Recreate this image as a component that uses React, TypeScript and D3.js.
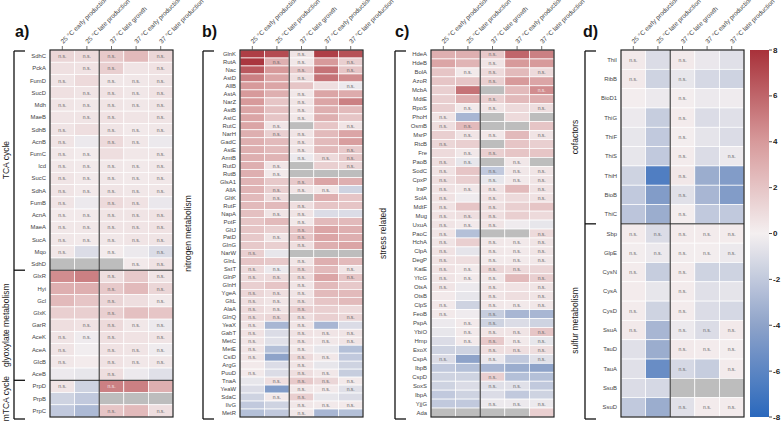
import React from 'react';
import * as d3 from 'd3';

const conditions = [
  '25 °C early production',
  '25 °C late production',
  '37 °C late growth',
  '37 °C early production',
  '37 °C late production',
];

// panel a
const aGenes = ['SdhC', 'PckA', 'FumD', 'SucD', 'Mdh', 'MaeB', 'SdhB', 'AcnB', 'FumC', 'Icd', 'SucC', 'SdhA', 'FumB', 'AcnA', 'MaeA', 'SucA', 'Mqo', 'SdhD',
  'GlxR', 'Hyi', 'Gcl', 'GlxK', 'GarR', 'AceK', 'AceA', 'GlcB', 'AceB', 'PrpD', 'PrpB', 'PrpC'];
const aValues = [
  [1.2, 1.0, 1.8, 2.5, 1.2], [0.7, 0.6, 1.5, 0.5, 0.6], [0.5, 1.0, 0.4, 0.4, 0.5], [0.7, 0.5, 0.6, 0.4, 0.6],
  [0.5, 0.4, 0.5, 0.4, 0.5], [0.5, 0.5, 0.6, 0.5, 0.5], [0.5, 0.8, 0.5, 0.3, 0.4], [0.5, -0.3, 1.0, 0.4, -0.3],
  [0.4, 0.2, 0.8, 0.4, 0.4], [0.4, 0.3, 0.4, 0.3, 0.4], [0.5, 0.3, 0.4, 0.3, 0.4], [0.5, 0.3, 0.5, 0.4, 0.4],
  [0.5, -0.3, 1.0, 0.6, -0.4], [0.3, 0.3, 0.5, 0.5, 0.6], [0.4, 0.4, 0.5, 0.5, 0.6], [0.4, 0.3, 0.4, 0.5, 0.5],
  [0.4, -1.0, 0.2, -0.3, -1.0], [null, null, null, 0.3, 0.6],
  [4.5, 5.0, 0.8, 1.8, 0.5], [3.0, 3.0, 1.8, 2.5, 1.2], [2.5, 2.0, 1.2, 0.8, 0.3], [1.5, 1.5, 1.5, 2.2, 2.0],
  [0.8, 0.6, 1.0, 0.4, -0.3], [0.5, -0.2, 0.7, 0.6, 0.5], [0.5, -0.1, 0.6, 0.5, -0.2], [0.4, 0.2, 0.6, 0.4, 0.4],
  [-0.3, -0.5, 0.8, -0.3, -0.8],
  [0.5, -1.5, 5.0, 5.0, 3.0], [-1.5, -2.0, null, null, null], [-2.0, -2.8, 2.0, 2.5, 0.8],
];
const aNs = ['11101', '01101', '10111', '01111', '11111', '01101', '10111', '10110', '11001', '11111', '11111', '11111',
  '10110', '11111', '11111', '11111', '10101', '00011',
  '00101', '00101', '00101', '00100', '01111', '11101', '10111', '10111', '00100',
  '10100', '00000', '00101'];
const aGroups = [['TCA cycle', 18], ['glyoxylate metabolism', 9], ['mTCA cycle', 3]];

// panel b
const bGenes = ['GlnK', 'RutA', 'Nac', 'AstD', 'AllB', 'AstA', 'NarZ', 'AstB', 'AstC', 'RutC', 'NarH', 'GadC', 'AstE', 'AmtB', 'RutD', 'RutB',
  'GlsA1', 'AllA', 'GltK', 'RutF', 'NapA', 'PotF', 'GltJ', 'PatD', 'GlnG', 'NarW', 'GlnL', 'SstT', 'GlnP', 'GlnH', 'YgeA', 'GltL', 'AlaA',
  'GlnQ', 'YeaX', 'GabT', 'MetC', 'MetE', 'CsiD', 'ArgG', 'PuuD', 'TnaA', 'YeaW', 'SdaC', 'IlvG', 'MetR'];
const bValues = [
  [7.5, 7.0, 0.5, 7.5, 6.8], [7.8, 3.0, 0.4, 4.0, 1.5], [6.5, 4.0, 1.8, 5.5, 2.0], [5.0, 3.5, 0.8, 5.5, 4.5],
  [4.0, 3.5, 2.0, 0.8, -0.3], [4.0, 3.0, 0.4, 3.5, 3.2], [4.0, 2.0, 0.5, 3.5, 5.0], [3.5, 2.2, 0.5, 3.0, 2.5],
  [3.5, 2.0, 0.4, 3.0, 2.0], [3.5, 0.5, null, 2.0, 0.5], [3.0, 1.5, 0.5, 2.5, 3.5], [3.0, 2.5, 0.6, 2.5, 3.8],
  [3.0, 2.5, 0.5, 2.5, 1.8], [3.0, 2.8, -0.3, 1.0, 1.8], [3.0, 0.5, null, 1.5, 1.2], [3.0, 0.3, null, null, null],
  [2.8, 1.8, 1.8, 3.5, 3.0], [2.8, 1.5, 0.5, 0.4, -1.5], [2.5, 1.0, null, 3.0, 2.0], [2.5, 2.5, 0.8, 2.0, 2.0],
  [2.2, 0.5, 0.5, -1.0, -1.0], [2.0, 2.5, 0.4, 2.5, 2.5], [2.0, 1.5, 2.0, 3.5, 3.0], [1.8, 0.5, 2.0, 3.5, 3.0],
  [1.8, 1.5, 0.8, 3.0, 3.5], [1.5, -0.5, null, null, null], [2.0, 1.8, 0.5, 3.0, 2.5], [1.0, -0.3, 1.2, 2.5, 0.5],
  [1.0, 1.0, 1.0, 3.5, 2.0], [1.5, 2.0, 0.5, 2.5, 1.8], [1.2, 0.8, 0.5, 2.5, 2.5], [0.8, 0.5, 0.8, 2.0, 2.5],
  [1.0, 0.6, 1.5, 1.5, 1.0], [1.0, 1.2, 0.8, 1.5, 1.2], [0.5, -3.0, 0.5, -3.0, -1.0], [0.6, -1.0, 0.6, 0.5, 0.5],
  [0.5, -0.8, 0.6, 0.4, 0.5], [0.5, -2.5, 0.4, -0.5, -2.5], [0.5, -4.0, 1.0, 0.4, -2.0], [0.3, -1.0, 0.5, -0.5, -1.5],
  [0.3, -1.0, 0.8, 0.4, -1.8], [-0.5, 0.8, 1.8, 1.2, 0.3], [-1.0, -4.5, 0.4, 0.3, -0.8], [-1.5, 0.3, 1.5, -0.5, -1.0],
  [-2.0, -1.5, 0.4, 0.3, 0.3], [-2.5, -2.0, 0.4, -3.0, -2.5],
];
const bNs = ['00100', '01101', '00101', '00100', '00001', '00100', '00100', '00100', '00100', '01001', '01100', '00100',
  '00101', '00111', '01001', '01000', '00100', '01110', '01000', '00100', '01100', '00100', '00100', '01100', '00100',
  '10000', '00100', '11101', '11101', '00100', '11100', '11100', '11100', '11101', '10100', '10111', '10111', '10100',
  '10110', '00100', '10110', '01111', '00111', '01100', '00111', '00100'];
const bGroups = [['nitrogen metabolism', 46]];

// panel c
const cGenes = ['HdeA', 'HdeB', 'BolA', 'AzoR', 'McbA', 'MdtE', 'RpoS', 'PhoH', 'OsmB', 'MsrP', 'RtcB', 'Fre', 'PaoB', 'SodC', 'CpxP', 'IraP',
  'SolA', 'MdtF', 'Mug', 'UxuA', 'PaoC', 'HchA', 'ClpA', 'DegP', 'KatE', 'YfcG', 'OtsA', 'OtsB', 'ClpS', 'FeoB', 'PspA', 'YbiO', 'Hmp',
  'ExoX', 'CspA', 'IbpB', 'CspD', 'SoxS', 'IbpA', 'YjjG', 'Ada'];
const cValues = [
  [3.0, 3.0, 1.8, 6.0, 5.0], [3.5, 2.8, 0.5, 4.0, 4.0], [2.0, 0.3, 1.0, 2.5, 1.0], [2.0, 2.0, 1.5, 4.0, 3.5],
  [1.5, 5.5, null, 2.5, 4.5], [1.5, 3.0, 1.5, 2.5, 3.0], [1.5, 0.3, 0.5, 1.0, 0.8], [0.5, -3.0, null, 1.0, null],
  [0.8, 2.5, null, null, 2.0], [1.5, 0.5, 0.4, 2.5, 0.5], [1.2, 1.5, null, 2.0, 1.5], [1.0, 0.4, 1.5, 2.0, 2.0],
  [0.8, -0.5, null, 0.4, null], [0.6, 2.0, -2.0, 0.4, 0.5], [0.8, 1.5, -0.5, 0.3, 0.5], [0.6, 0.4, 0.6, 2.5, 0.6],
  [0.6, -0.2, 0.6, 1.0, 0.6], [0.6, 2.0, 0.8, 1.5, 2.0], [0.6, 0.8, 0.8, 1.5, 1.0], [0.5, 0.3, 0.5, -0.2, -0.5],
  [0.5, -2.5, null, null, 1.0], [0.5, 1.5, 0.4, 0.3, 0.5], [0.6, -0.6, 0.4, 0.3, 0.5], [0.6, 0.8, 0.3, 0.3, 0.4],
  [0.6, 0.3, 1.2, 1.0, 1.2], [0.5, 0.3, 0.4, 2.5, 1.5], [0.5, -0.3, 0.5, 0.6, 0.5], [0.3, -0.5, 0.5, 0.8, 0.5],
  [0.3, -1.5, 0.4, 0.3, 0.4], [0.3, -0.2, -1.8, -3.0, -3.0], [-0.3, 0.3, -1.5, -1.0, -1.5], [-0.5, 0.3, 0.5, 0.5, 2.0],
  [-1.0, 0.3, 1.8, 0.3, -0.5], [-1.5, -1.5, 0.8, 0.8, 0.8], [-1.0, -4.0, -0.4, -2.0, -0.8], [-2.0, -2.5, -3.0, -3.5, -4.0],
  [-1.5, -1.5, 1.5, -2.5, -2.5], [-1.5, -1.0, -0.8, -0.8, -2.0], [-2.0, -1.5, -1.0, -2.0, -1.5], [-2.0, -2.0, -0.3, -0.3, -0.3],
  [null, null, null, null, 1.5],
];
const cNs = ['00100', '00100', '01101', '00100', '00001', '00100', '01101', '10000', '11000', '01101', '10000', '01100',
  '11010', '10111', '10111', '11101', '10101', '10100', '11100', '11100', '10001', '10111', '10111', '10111', '11110',
  '11101', '10101', '00101', '10111', '10100', '01100', '01111', '01111', '00111', '10101', '00000', '00100', '00110',
  '00000', '00111', '00000'];
const cGroups = [['stress related', 41]];

// panel d
const dGenes = ['ThiI', 'RibB', 'BioD1', 'ThiG', 'ThiF', 'ThiS', 'ThiH', 'BioB', 'ThiC',
  'Sbp', 'GlpE', 'CysN', 'CysA', 'CysD', 'SsuA', 'TauD', 'TauA', 'SsuB', 'SsuD'];
const dValues = [
  [0.3, -1.0, 0.3, -0.4, -0.8], [0.3, -1.5, -0.5, -1.2, -1.5], [0.1, -0.3, 0.1, -0.3, -0.2], [-0.3, -1.8, 0.2, -1.0, -0.8],
  [-0.5, -2.0, 0.1, -0.6, -1.0], [-0.5, -2.0, 0.2, -1.0, -0.3], [-1.5, -6.5, 0.4, -3.5, -4.5], [-2.0, -4.5, -0.8, -3.0, -4.5],
  [-2.2, -3.5, 0.1, -2.0, -2.0],
  [0.2, -1.0, 0.2, 0.2, 0.2], [0.1, -0.3, 0.1, 0.1, -0.3], [0.2, -1.8, 0.2, -1.5, -1.5], [0.2, -0.5, 0.2, -0.8, -0.6],
  [0.2, -1.5, 0.2, -1.0, -1.2], [0.3, -3.0, -0.3, -1.0, 0.3], [-0.8, -3.5, 0.3, 0.2, 0.1], [-0.8, -5.5, -1.2, -1.8, 0.2],
  [-1.0, -1.2, null, null, null], [-2.0, -3.5, -0.8, 0.2, 0.2],
];
const dNs = ['10100', '10100', '00100', '00100', '00100', '00101', '00100', '00100', '00100',
  '11111', '11111', '10100', '00100', '10100', '10111', '00111', '00101', '00000', '00111'];
const dGroups = [['cofactors', 9], ['sulfur metabolism', 10]];

const cbTicks = [8, 6, 4, 2, 0, -2, -4, -6, -8];

const TOP = 50;
const BOTTOM = 417;
const W = 123;
const FONT = "'Liberation Sans', Arial, Helvetica, sans-serif";
const NAN_FILL = '#bdbdbd';

const color = d3
  .scaleLinear<string>()
  .domain([-8, -4, 0, 4, 8])
  .range(['#2a68bd', '#8ea3c9', '#f4eff0', '#d79a9b', '#a8313a'])
  .clamp(true);

function Panel({ letter, letterX, left, genes, values, ns, groups, bracketX, labelX }) {
  const x = d3.scaleBand().domain(conditions).range([left, left + W]);
  const y = d3.scaleBand().domain(genes).range([TOP, BOTTOM]);
  const step = y.step();

  let acc = 0;
  const bounds = groups.map(([name, n]) => {
    const s = acc;
    acc += n;
    return { name, y0: TOP + s * step, y1: TOP + acc * step };
  });

  const sepX = left + 2 * x.step();

  return (
    <g>
      <text x={letterX} y={37} fontSize={16} fontWeight="bold" fill="#111">{letter}</text>

      {conditions.map(c => {
        const cx = x(c) + x.bandwidth() / 2;
        return (
          <g key={c}>
            <line x1={cx} x2={cx} y1={TOP - 4} y2={TOP} stroke="#333" strokeWidth={0.7} />
            <text transform={`translate(${cx + 1},${TOP - 6}) rotate(-45)`} fontSize={6.4} fill="#444">{c}</text>
          </g>
        );
      })}

      {genes.map((g, i) => (
        <g key={g}>
          <text x={left - 4} y={y(g) + step / 2} fontSize={5.9} fill="#444" textAnchor="end" dominantBaseline="central">{g}</text>
          {values[i].map((v, j) => {
            const cx = x(conditions[j]);
            const isNs = ns[i][j] === '1';
            return (
              <g key={j}>
                <rect x={cx} y={y(g)} width={x.bandwidth()} height={step}
                  fill={v === null ? NAN_FILL : color(v)} stroke="#fff" strokeWidth={0.7} />
                {isNs && (
                  <text x={cx + x.bandwidth() / 2} y={y(g) + step / 2} fontSize={5} textAnchor="middle"
                    dominantBaseline="central" fill={v !== null && Math.abs(v) > 4 ? '#f4e6e6' : '#666'}>n.s.</text>
                )}
              </g>
            );
          })}
        </g>
      ))}

      {bounds.slice(1).map(b => (
        <line key={b.name} x1={left} x2={left + W} y1={b.y0} y2={b.y0} stroke="#222" strokeWidth={1} />
      ))}
      <line x1={sepX} x2={sepX} y1={TOP} y2={BOTTOM} stroke="#222" strokeWidth={1} />
      <rect x={left} y={TOP} width={W} height={BOTTOM - TOP} fill="none" stroke="#222" strokeWidth={1.2} />

      <line x1={bracketX} x2={bracketX} y1={TOP + 1} y2={BOTTOM + 2} stroke="#111" strokeWidth={1.3} />
      {[TOP + 1, ...bounds.slice(1).map(b => b.y0), BOTTOM + 2].map((yy, k) => (
        <line key={k} x1={bracketX} x2={bracketX + 11} y1={yy} y2={yy} stroke="#111" strokeWidth={1.3} />
      ))}
      {bounds.map(b => (
        <text key={b.name} transform={`translate(${labelX},${(b.y0 + b.y1) / 2}) rotate(-90)`} fontSize={8.5}
          textAnchor="middle" dominantBaseline="central" fill="#222">{b.name}</text>
      ))}
    </g>
  );
}

function ColorBar({ left, width }) {
  const yc = d3.scaleLinear().domain([8, -8]).range([TOP, BOTTOM]);
  const stops = d3.range(0, 1.0001, 0.05);
  return (
    <g>
      <defs>
        <linearGradient id="cb" x1="0" y1="0" x2="0" y2="1">
          {stops.map(s => (
            <stop key={s} offset={s} stopColor={color(8 - 16 * s)} />
          ))}
        </linearGradient>
      </defs>
      <rect x={left} y={TOP} width={width} height={BOTTOM - TOP} fill="url(#cb)" />
      {cbTicks.map(t => (
        <g key={t}>
          <line x1={left + width} x2={left + width + 3} y1={yc(t)} y2={yc(t)} stroke="#222" strokeWidth={0.8} />
          <text x={left + width + 4} y={yc(t)} fontSize={8} fontWeight="bold" fill="#222" dominantBaseline="central">{t}</text>
        </g>
      ))}
    </g>
  );
}

export default function App() {
  return (
    <svg width={784} height={425} style={{ display: 'block', position: 'absolute', left: 0, top: 0 }} fontFamily={FONT}>
      <rect width={784} height={425} fill="#fff" />
      <Panel letter="a)" letterX={15} left={50} genes={aGenes} values={aValues} ns={aNs} groups={aGroups} bracketX={14} labelX={6} />
      <Panel letter="b)" letterX={202} left={240} genes={bGenes} values={bValues} ns={bNs} groups={bGroups} bracketX={203} labelX={188} />
      <Panel letter="c)" letterX={395} left={431} genes={cGenes} values={cValues} ns={cNs} groups={cGroups} bracketX={395} labelX={383} />
      <Panel letter="d)" letterX={583} left={621} genes={dGenes} values={dValues} ns={dNs} groups={dGroups} bracketX={585} labelX={575} />
      <ColorBar left={750} width={19} />
    </svg>
  );
}
